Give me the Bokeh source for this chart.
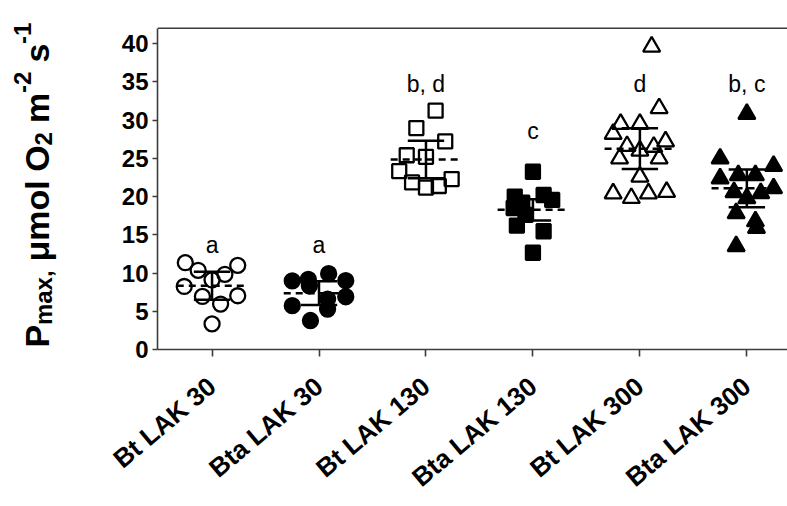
import math
from bokeh.plotting import figure
from bokeh.layouts import row
from bokeh.models import Range1d, FixedTicker, Span, ColumnDataSource
from bokeh.core.properties import value
from bokeh.embed import file_html
from bokeh.resources import INLINE

# ---------------- data ----------------
groups = ["Bt LAK 30", "Bta LAK 30", "Bt LAK 130", "Bta LAK 130", "Bt LAK 300", "Bta LAK 300"]

g1_vals = [11.35, 10.35, 11.0, 9.83, 9.1, 8.24, 6.94, 7.03, 5.94, 3.35]
g1_jit = [-0.25, -0.13, 0.24, 0.12, 0.0, -0.26, -0.09, 0.24, 0.08, 0.0]

g2_vals = [8.97, 9.18, 8.33, 9.92, 5.73, 6.59, 5.29, 3.79, 9.0, 6.9]
g2_jit = [-0.25, -0.10, -0.09, 0.09, -0.25, 0.08, 0.08, -0.08, 0.25, 0.25]

g3_vals = [31.23, 28.95, 27.21, 25.40, 25.19, 23.32, 21.85, 21.17, 21.38, 22.28]
g3_jit = [0.09, -0.09, 0.18, -0.18, 0.0, -0.25, -0.13, 0.0, 0.12, 0.24]

g4_vals = [23.24, 20.2, 19.56, 15.46, 12.65, 20.0, 19.2, 18.5, 17.6, 16.2]
g4_jit = [0.0, 0.10, 0.18, 0.10, 0.0, -0.17, -0.10, -0.18, -0.07, -0.15]

g5_vals = [39.6, 31.54, 29.5, 29.5, 28.2, 27.2, 26.6, 26.5, 26.0, 24.97, 24.97, 22.6, 20.4, 19.8, 20.4, 20.6]
g5_jit = [0.11, 0.18, -0.18, 0.0, -0.25, 0.24, -0.12, 0.13, 0.0, -0.19, 0.18, 0.0, -0.25, -0.08, 0.08, 0.25]

g6_vals = [30.8, 24.97, 24.0, 22.8, 22.8, 22.37, 20.56, 20.43, 21.08, 19.78, 17.83, 16.76, 15.9, 13.5]
g6_jit = [0.0, -0.25, 0.25, -0.08, 0.08, -0.25, -0.12, 0.13, 0.25, 0.0, -0.10, 0.08, 0.09, -0.10]

means = [8.33, 7.37, 24.84, 18.26, 26.26, 21.08]
errs = [1.82, 1.55, 2.45, 1.40, 2.66, 2.47]

letters = ["a", "a", "b, d", "c", "d", "b, c"]
letter_y = [13.7, 13.7, 34.7, 28.6, 34.7, 34.7]

y_ticks = [0, 5, 10, 15, 20, 25, 30, 35, 40]
y_axis_max = 42

title_pieces = ["P", "max,", "μmol", "O", "2", "m", "-2", "s", "-1"]
title_kinds = ["main", "sub", "main", "main", "sub", "main", "sup", "main", "sup"]
title_space_after = [False, True, True, False, True, False, True, False, False]

# ---------------- layout constants ----------------
FONT = "Liberation Sans"
AX = "#3c3c3c"
W, H = 787, 506
TW = 60                      # width of the title strip
LEFT = 157                   # frame left edge (page px)
BOTTOM = 352.5               # y = 0 (page px)
PX_Y = 7.725                 # pixels per y unit
X0, X1 = 0.49, 6.38
YR = Range1d(0, BOTTOM / PX_Y)   # frame spans from page top down to y = 0
BB = int(H - BOTTOM)

# ---------------- title strip (rotated y-axis title) ----------------
t = figure(width=TW, height=H, output_backend="svg", toolbar_location=None,
           x_range=Range1d(0, TW), y_range=YR,
           min_border_left=0, min_border_right=0, min_border_top=0, min_border_bottom=BB)
t.axis.visible = False
t.grid.visible = False
t.outline_line_color = None
t.background_fill_color = "white"
t.border_fill_color = "white"

F, FS = 34, 24
WID = {"P": 667, "m": 889, "a": 556, "x": 556, ",": 278, " ": 278, "μ": 611,
       "o": 611, "l": 278, "O": 778, "2": 556, "s": 556, "-": 333, "1": 556}

def tw(s, size):
    return sum(WID.get(c, 556) for c in s) / 1000.0 * size

base_x = 36                  # baseline position inside the strip (px)
pos = 2.0                    # px above y = 0 where the text starts
for txt, kind, sp in zip(title_pieces, title_kinds, title_space_after):
    size = F if kind == "main" else FS
    dx = 0 if kind == "main" else (0.22 * F if kind == "sub" else -0.42 * F)
    t.text(x=[base_x + dx], y=[pos / PX_Y], text=[txt], angle=math.pi / 2,
           text_font=value(FONT), text_font_style="bold", text_font_size=f"{size}px",
           text_color="black", text_align="left", text_baseline="alphabetic")
    pos += tw(txt, size) + (tw(" ", F) if sp else 0)

# ---------------- main plot ----------------
p = figure(width=W - TW, height=H, output_backend="svg", toolbar_location=None,
           x_range=Range1d(X0, X1), y_range=YR,
           min_border_left=LEFT - TW, min_border_right=0, min_border_top=0,
           min_border_bottom=BB)
p.background_fill_color = "white"
p.border_fill_color = "white"
p.outline_line_color = None
p.grid.visible = False

p.xaxis.ticker = FixedTicker(ticks=list(range(1, len(groups) + 1)))
p.xaxis.major_label_overrides = {i + 1: g for i, g in enumerate(groups)}
p.xaxis.major_label_orientation = math.radians(40)
p.yaxis.ticker = FixedTicker(ticks=y_ticks)
p.yaxis.bounds = (0, y_axis_max)
for ax in (p.xaxis, p.yaxis):
    ax.axis_line_color = AX
    ax.axis_line_width = 1.6
    ax.major_tick_line_color = AX
    ax.major_tick_line_width = 1.6
    ax.minor_tick_line_color = None
    ax.major_tick_in = 0
    ax.major_label_text_font = FONT
    ax.major_label_text_font_style = "bold"
    ax.major_label_text_color = "black"
p.xaxis.major_tick_out = 7
p.yaxis.major_tick_out = 5
p.xaxis.major_label_text_font_size = "26px"
p.yaxis.major_label_text_font_size = "24px"
p.xaxis.major_label_standoff = 26
p.yaxis.major_label_standoff = 4

p.add_layout(Span(location=y_axis_max, dimension="width", line_color=AX, line_width=1.6))

# points
vals = [g1_vals, g2_vals, g3_vals, g4_vals, g5_vals, g6_vals]
jits = [g1_jit, g2_jit, g3_jit, g4_jit, g5_jit, g6_jit]
styles = [("circle", None, 15), ("circle", "black", 15),
          ("square", None, 14), ("square", "black", 14),
          ("triangle", None, 17), ("triangle", "black", 17)]
for i, (v, j) in enumerate(zip(vals, jits)):
    marker, fill, size = styles[i]
    src = ColumnDataSource(dict(x=[i + 1 + d for d in j], y=v))
    p.scatter("x", "y", source=src, marker=marker, size=size,
              fill_color=fill, line_color="black", line_width=2.3)

# mean lines and error bars
cx = [i + 1 for i in range(len(means))]
lo = [m - e for m, e in zip(means, errs)]
hi = [m + e for m, e in zip(means, errs)]
MW, CW = 0.33, 0.17
p.segment(x0=[c - MW for c in cx], y0=means, x1=[c + MW for c in cx], y1=means,
          line_color="black", line_width=2.5, line_dash="7 5")
p.segment(x0=cx, y0=lo, x1=cx, y1=hi, line_color="black", line_width=2.5)
p.segment(x0=[c - CW for c in cx], y0=hi, x1=[c + CW for c in cx], y1=hi,
          line_color="black", line_width=2.5)
p.segment(x0=[c - CW for c in cx], y0=lo, x1=[c + CW for c in cx], y1=lo,
          line_color="black", line_width=2.5)

# significance letters
p.text(x=cx, y=letter_y, text=letters, text_font=value(FONT), text_font_size="23px",
       text_align="center", text_baseline="alphabetic", text_color="black")

layout = row(t, p, spacing=0)
open("out.html", "w").write(file_html(layout, INLINE))
